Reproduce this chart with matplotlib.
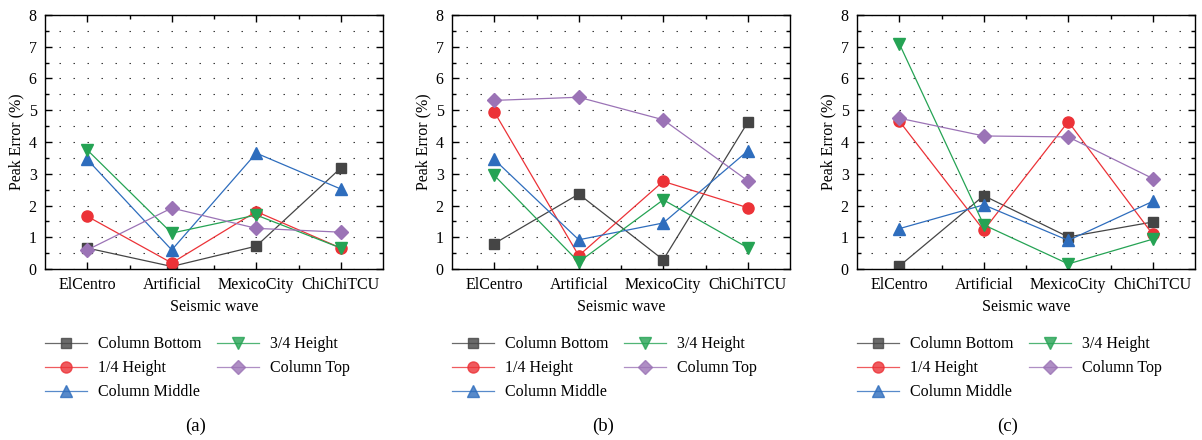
import numpy as np
import matplotlib
matplotlib.use("Agg")
from matplotlib import pyplot as plt
from matplotlib.ticker import MultipleLocator, FixedLocator

plt.rcParams['font.family'] = ['Liberation Serif', 'DejaVu Serif']

waves = ["ElCentro", "Artificial", "MexicoCity", "ChiChiTCU"]
series_names = ["Column Bottom", "1/4 Height", "Column Middle", "3/4 Height", "Column Top"]

# panel (a)
a_bottom = [0.66, 0.08, 0.72, 3.18]
a_quarter = [1.66, 0.19, 1.81, 0.66]
a_middle = [3.45, 0.60, 3.65, 2.52]
a_three_q = [3.75, 1.13, 1.70, 0.66]
a_top = [0.60, 1.92, 1.28, 1.16]

# panel (b)
b_bottom = [0.80, 2.36, 0.29, 4.62]
b_quarter = [4.95, 0.42, 2.76, 1.93]
b_middle = [3.45, 0.92, 1.45, 3.72]
b_three_q = [2.95, 0.22, 2.18, 0.67]
b_top = [5.31, 5.41, 4.70, 2.78]

# panel (c)
c_bottom = [0.09, 2.31, 1.01, 1.48]
c_quarter = [4.66, 1.22, 4.64, 1.09]
c_middle = [1.27, 2.02, 0.90, 2.13]
c_three_q = [7.10, 1.39, 0.16, 0.94]
c_top = [4.75, 4.19, 4.16, 2.85]

panels = [
    ("(a)", [a_bottom, a_quarter, a_middle, a_three_q, a_top]),
    ("(b)", [b_bottom, b_quarter, b_middle, b_three_q, b_top]),
    ("(c)", [c_bottom, c_quarter, c_middle, c_three_q, c_top]),
]

colors = ["#454545", "#ec3237", "#2e6dbd", "#25a354", "#9b73b6"]
markers = ["s", "o", "^", "v", "D"]
msizes = [7, 8, 8, 8, 7]

W, H = 1202, 440
fig = plt.figure(figsize=(W / 100, H / 100), dpi=100)

lefts = [45, 452, 857]
ax_w = 338
ax_top, ax_bot = 15, 269

x = np.arange(len(waves))
for (cap, data), lx in zip(panels, lefts):
    ax = fig.add_axes([lx / W, 1 - ax_bot / H, ax_w / W, (ax_bot - ax_top) / H])
    ax.yaxis.set_minor_locator(MultipleLocator(0.5))
    ax.grid(axis='y', which='both', linestyle=(0, (1.3, 11.3)), color='#333333', lw=0.8)
    ax.set_axisbelow(True)
    handles = []
    for vals, name, c, m, ms in zip(data, series_names, colors, markers, msizes):
        h, = ax.plot(x, vals, color=c, lw=0.9, marker=m, ms=ms, mec=c, mfc=c, label=name)
        handles.append(h)
    ax.set_xlim(-0.5, 3.5)
    ax.set_ylim(0, 8)
    ax.set_xticks(x)
    ax.set_xticklabels(waves)
    ax.xaxis.set_minor_locator(FixedLocator([0.5, 1.5, 2.5]))
    ax.yaxis.set_major_locator(MultipleLocator(1))
    ax.tick_params(which='both', direction='in', top=True, right=True, labelsize=11.5, width=1.0)
    ax.tick_params(which='major', length=5, pad=6)
    ax.tick_params(which='minor', length=3)
    for sp in ax.spines.values():
        sp.set_linewidth(1.0)
    ax.set_xlabel("Seismic wave", fontsize=11.5, labelpad=4)
    ax.set_ylabel("Peak Error (%)", fontsize=11.5, labelpad=3)
    leg = ax.legend(handles, series_names, ncol=2, loc='upper left',
                    bbox_to_anchor=(0.0, -0.265), frameon=False, fontsize=11.5,
                    borderpad=0, borderaxespad=0, handlelength=2.6,
                    handletextpad=0.7, columnspacing=1.0, labelspacing=0.5)
    for lh in leg.get_lines():
        lh.set_alpha(0.8)
    fig.text((lx + ax_w / 2 - 18) / W, 1 - 426 / H, cap, fontsize=13.5, ha='center', va='center')

fig.savefig("out.png", dpi=100)
